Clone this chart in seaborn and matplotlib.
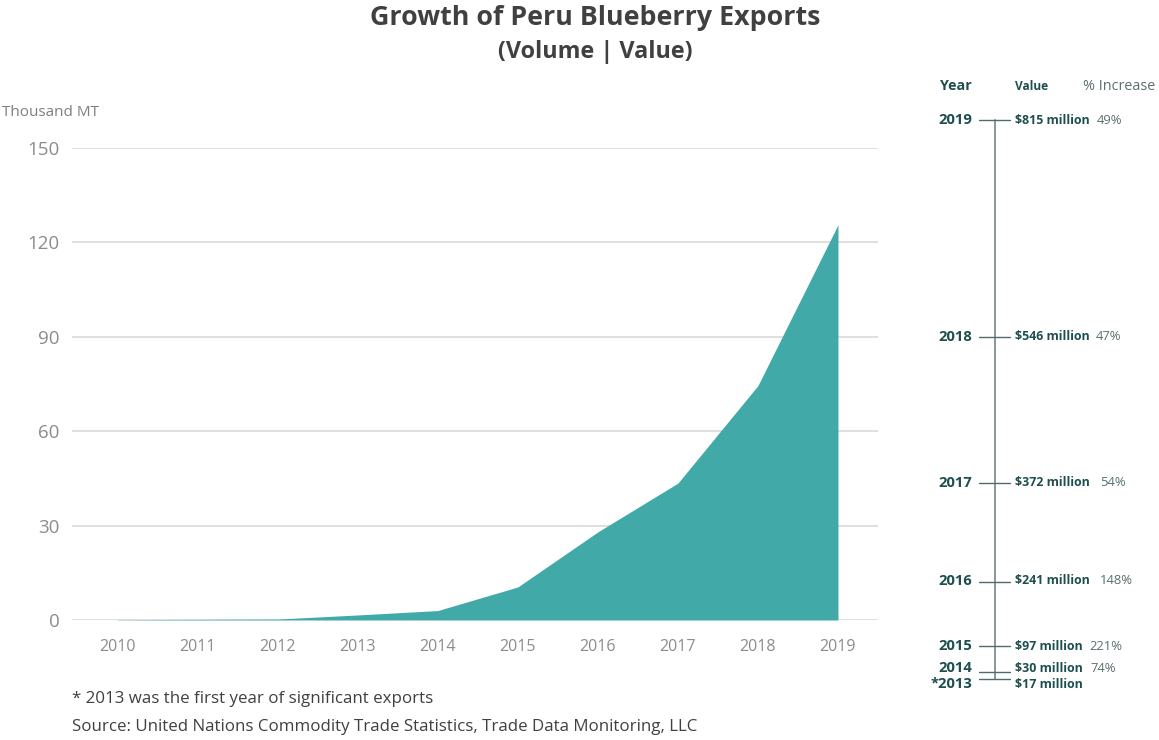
import matplotlib
matplotlib.use("Agg")
import matplotlib.pyplot as plt
import seaborn as sns
import pandas as pd

# ---- data ----
years = [2010, 2011, 2012, 2013, 2014, 2015, 2016, 2017, 2018, 2019]
volume_kmt = [0.1, 0.2, 0.3, 1.6, 3.0, 10.5, 28.0, 43.5, 74.5, 125.6]
y_ticks = [0, 30, 60, 90, 120, 150]

tl_years = ["2019", "2018", "2017", "2016", "2015", "2014", "*2013"]
tl_values = ["$815 million", "$546 million", "$372 million", "$241 million",
             "$97 million", "$30 million", "$17 million"]
tl_increase = ["49%", "47%", "54%", "148%", "221%", "74%", ""]

# ---- layout (pixel rows / columns of the timeline entries) ----
W, H = 1159, 740
tl_tick_px = [120, 337, 483, 582, 646, 672, 679]
tl_text_px = [120, 337, 483, 581, 646, 668, 684]
tl_pct_x = [1097, 1096, 1100, 1100, 1089, 1090, 1090]

sns.set_theme(style="white")
plt.rcParams["font.family"] = ["Open Sans", "DejaVu Sans"]

teal = "#41A9A8"
grid_c = "#d9d9d9"
tick_c = "#8c8c8c"
dark = "#1f4e4e"
pct_c = "#5a7070"

fig = plt.figure(figsize=(W / 100, H / 100), dpi=100)
ax = fig.add_axes([72 / W, 1 - 620 / H, (878 - 72) / W, (620 - 148) / H])

df = pd.DataFrame({"year": years, "volume": volume_kmt})
sns.lineplot(data=df, x="year", y="volume", ax=ax, color=teal, linewidth=0)
ax.fill_between(df["year"], df["volume"], 0, color=teal, linewidth=0, zorder=3)

ax.set_xlim(2009.43, 2019.5)
ax.set_ylim(0, 150)
ax.set_yticks(y_ticks)
ax.set_xticks(years)
ax.set_xticklabels([str(y) for y in years])
ax.yaxis.grid(True, color=grid_c, linewidth=1.2, zorder=0)
ax.set_axisbelow(True)
for s in ax.spines.values():
    s.set_visible(False)
ax.tick_params(axis="y", length=0, pad=9, labelsize=13.5, labelcolor=tick_c)
ax.tick_params(axis="x", length=0, pad=14, labelsize=11.5, labelcolor=tick_c)
ax.set_xlabel("")
ax.set_ylabel("")

def fx(px):
    return px / W

def fy(py):
    return 1 - py / H

fig.text(fx(595), fy(18), "Growth of Peru Blueberry Exports", ha="center", va="center",
         fontsize=19.3, fontweight="bold", color="#404040")
fig.text(fx(595), fy(52), "(Volume | Value)", ha="center", va="center",
         fontsize=16.8, fontweight="bold", color="#404040")
fig.text(fx(2), fy(112), "Thousand MT", ha="left", va="center", fontsize=11, color="#7f7f7f")

fig.text(fx(72), fy(699), "* 2013 was the first year of significant exports", ha="left",
         va="center", fontsize=12.2, color="#404040")
fig.text(fx(72), fy(727), "Source: United Nations Commodity Trade Statistics, Trade Data Monitoring, LLC",
         ha="left", va="center", fontsize=12.2, color="#404040")

# ---- timeline ----
fig.text(fx(972), fy(86), "Year", ha="right", va="center", fontsize=10.3, fontweight="bold", color=dark)
fig.text(fx(1015), fy(86), "Value", ha="left", va="center", fontsize=8.6, fontweight="bold", color=dark)
fig.text(fx(1083), fy(87), "% Increase", ha="left", va="center", fontsize=10.4, color=pct_c)

fig.add_artist(plt.Line2D([fx(995), fx(995)], [fy(tl_tick_px[0]), fy(tl_tick_px[-1])],
                          color="#8a9898", linewidth=1.4))
for yr, val, pct, tp, tx, px in zip(tl_years, tl_values, tl_increase, tl_tick_px, tl_text_px, tl_pct_x):
    fig.add_artist(plt.Line2D([fx(979), fx(1010)], [fy(tp), fy(tp)], color="#4f6b6b", linewidth=1.0))
    fig.text(fx(972), fy(tx), yr, ha="right", va="center", fontsize=10.6, fontweight="bold", color=dark)
    fig.text(fx(1015), fy(tx), val, ha="left", va="center", fontsize=8.9, fontweight="bold", color=dark)
    if pct:
        fig.text(fx(px), fy(tx), pct, ha="left", va="center", fontsize=9.4, color=pct_c)

fig.savefig("out.png", dpi=100)
